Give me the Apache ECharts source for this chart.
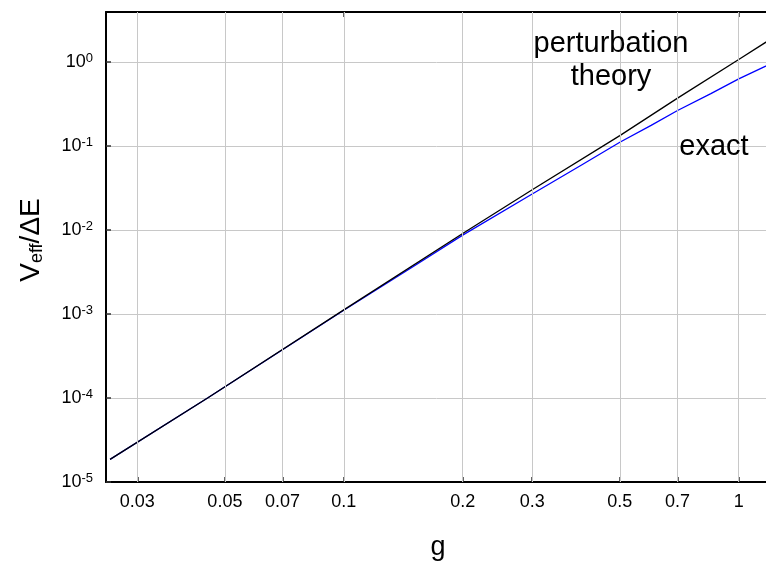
<!DOCTYPE html>
<html>
<head>
<meta charset="utf-8">
<script src="https://cdn.jsdelivr.net/npm/echarts@6/dist/echarts.min.js"></script>
<style>html,body{margin:0;padding:0;background:#fff}#c{width:766px;height:562px}</style>
</head>
<body>
<div id="c"></div>
<script>
// ---- data ----
const gPT = [0.0256, 0.0452, 0.1, 0.2, 0.3, 0.5, 0.7, 1, 1.2];
const vPT = [1.86e-5, 1e-4, 1.12e-3, 9.1e-3, 0.0302, 0.133, 0.372, 1.07, 1.85];
const gEx = [0.0256, 0.0452, 0.1, 0.15, 0.2, 0.3, 0.4, 0.5, 0.6, 0.7, 0.85, 1, 1.2];
const vEx = [1.86e-5, 1e-4, 1.11e-3, 3.68e-3, 8.7e-3, 0.0268, 0.0595, 0.111, 0.176, 0.265, 0.42, 0.63, 0.946];
const xTicks = [0.03, 0.05, 0.07, 0.1, 0.2, 0.3, 0.5, 0.7, 1];
const xTopTicks = [0.1, 1];
const yTicks = [1e-5, 1e-4, 1e-3, 1e-2, 1e-1, 1];
const labelPT = ['perturbation', 'theory'];
const labelEx = 'exact';

const FONT = '"Liberation Sans", Arial, sans-serif';
const chart = echarts.init(document.getElementById('c'), null, {renderer: 'canvas'});
const zip = (a, b) => a.map((v, i) => [v, b[i]]);
const txt = (s, x, y) => ({type: 'text', x: x, y: y, z: 10,
  style: {text: s, font: '29px ' + FONT, fill: '#000', align: 'center', verticalAlign: 'middle'}});

chart.setOption({
  animation: false,
  textStyle: {fontFamily: FONT},
  grid: {left: 106, right: -4, top: 12, bottom: 80, containLabel: false, outerBoundsMode: 'none'},
  xAxis: [{
    type: 'log', logBase: 10, min: 0.025, max: 1.2, position: 'bottom',
    name: 'g', nameLocation: 'middle', nameGap: 52,
    nameTextStyle: {fontSize: 27, color: '#000', fontFamily: FONT},
    axisLine: {show: true, onZero: false, lineStyle: {color: '#000', width: 2}},
    axisTick: {show: true, inside: true, length: 5, customValues: xTicks, lineStyle: {color: '#333', width: 1.5}},
    axisLabel: {show: true, margin: 11, fontSize: 18, color: '#000', fontFamily: FONT,
      customValues: xTicks, formatter: v => String(v)},
    splitLine: {show: false}, minorTick: {show: false}
  }, {
    type: 'log', logBase: 10, min: 0.025, max: 1.2, position: 'top',
    axisLine: {show: true, onZero: false, lineStyle: {color: '#000', width: 2}},
    axisTick: {show: true, inside: true, length: 5, customValues: xTopTicks, lineStyle: {color: '#333', width: 1.5}},
    axisLabel: {show: false},
    splitLine: {show: false}
  }],
  yAxis: {
    type: 'log', logBase: 10, min: 1e-5, max: 3.94,
    name: 'V{sub|eff}/ΔE', nameLocation: 'middle', nameGap: 60,
    nameTextStyle: {fontSize: 28, color: '#000', fontFamily: FONT, padding: [0, 0, 0, 14],
      rich: {sub: {fontSize: 18, color: '#000', fontFamily: FONT, verticalAlign: 'bottom', padding: [12, 0, 0, 0]}}},
    axisLine: {show: true, onZero: false, lineStyle: {color: '#000', width: 2}},
    axisTick: {show: true, inside: true, length: 5, customValues: yTicks, lineStyle: {color: '#333', width: 1.5}},
    axisLabel: {show: true, margin: 13, fontSize: 18, color: '#000', fontFamily: FONT,
      customValues: yTicks,
      formatter: v => '10{sup|' + Math.round(Math.log10(v)) + '}',
      rich: {sup: {fontSize: 13, color: '#000', fontFamily: FONT, verticalAlign: 'top', padding: [0, 0, 8, 0]}}},
    splitLine: {show: true, lineStyle: {color: '#c8c8c8', width: 1}}
  },
  series: [{
    type: 'line', data: [], z: 1, silent: true,
    markLine: {silent: true, symbol: 'none', label: {show: false}, animation: false,
      lineStyle: {color: '#c8c8c8', width: 1, type: 'solid'},
      data: xTicks.map(v => ({xAxis: v}))}
  }, {
    name: 'exact', type: 'line', data: zip(gEx, vEx), smooth: false, showSymbol: false, z: 3,
    lineStyle: {color: '#0000ff', width: 1.3}
  }, {
    name: 'perturbation theory', type: 'line', data: zip(gPT, vPT), smooth: false, showSymbol: false, z: 4,
    lineStyle: {color: '#000', width: 1.3}
  }],
  graphic: [
    txt(labelPT[0], 611, 44),
    txt(labelPT[1], 611, 77),
    txt(labelEx, 714, 147)
  ]
});
</script>
</body>
</html>
